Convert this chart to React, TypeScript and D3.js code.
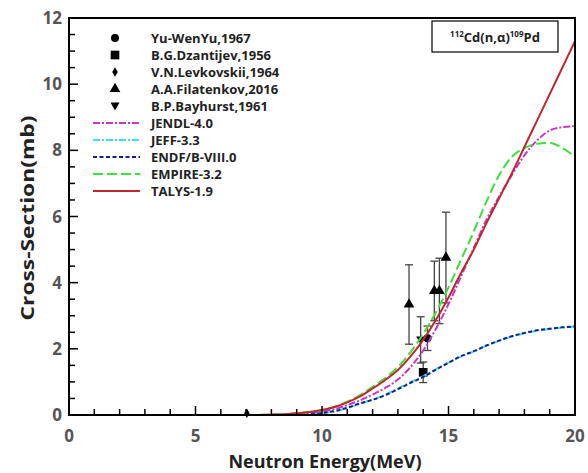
import React from "react";
import * as d3 from "d3";

// evaluated curves, energy grid in MeV
const energies = [7.5, 8, 8.5, 9, 9.5, 10, 10.5, 11, 11.5, 12, 12.5, 13, 13.5, 14, 14.5, 15, 15.5, 16, 16.5, 17, 17.5, 18, 18.5, 19, 19.5, 20];
const talys = [0, 0.01, 0.02, 0.05, 0.09, 0.15, 0.24, 0.38, 0.56, 0.8, 1.06, 1.36, 1.77, 2.27, 2.87, 3.55, 4.3, 5.0, 5.8, 6.55, 7.3, 8.1, 8.9, 9.7, 10.5, 11.3];
const empire = [0, 0.01, 0.02, 0.05, 0.09, 0.15, 0.25, 0.4, 0.6, 0.85, 1.12, 1.45, 1.9, 2.45, 3.1, 3.85, 4.7, 5.55, 6.45, 7.25, 7.8, 8.07, 8.2, 8.22, 8.07, 7.8];
const jendl = [0, 0.005, 0.01, 0.03, 0.06, 0.1, 0.18, 0.3, 0.44, 0.62, 0.82, 1.07, 1.45, 1.95, 2.6, 3.35, 4.2, 5.05, 5.9, 6.6, 7.25, 7.85, 8.3, 8.6, 8.7, 8.73];
const endf = [0, 0, 0, 0, 0.02, 0.06, 0.12, 0.22, 0.35, 0.46, 0.6, 0.78, 0.97, 1.15, 1.37, 1.58, 1.78, 1.93, 2.1, 2.25, 2.38, 2.48, 2.56, 2.61, 2.65, 2.68];
const jeff = [0, 0, 0, 0, 0.02, 0.05, 0.11, 0.21, 0.34, 0.46, 0.61, 0.8, 0.99, 1.17, 1.38, 1.58, 1.77, 1.92, 2.09, 2.24, 2.37, 2.47, 2.55, 2.6, 2.64, 2.67];

// experimental points: [E, sigma, err]
const yuwenyu = [[14.17, 2.32, 0.37]];
const dzantijev = [[14.0, 1.29, 0.31]];
const levkovskii = [[7.03, 0.05, 0]];
const filatenkov = [
  [13.44, 3.34, 1.2],
  [14.44, 3.75, 0.9],
  [14.64, 3.75, 0.99],
  [14.9, 4.76, 1.37],
];
const bayhurst = [[13.9, 2.27, 0.7]];

const xTicks = [0, 5, 10, 15, 20];
const yTicks = [0, 2, 4, 6, 8, 10, 12];

const font = "'Open Sans', 'DejaVu Sans', sans-serif";

const curves = [
  { name: "JENDL-4.0", vals: jendl, color: "#c837c8", dash: "7,2,2,2" },
  { name: "JEFF-3.3", vals: jeff, color: "#3fe0e0", dash: "7,2,2,2" },
  { name: "ENDF/B-VIII.0", vals: endf, color: "#1b1b8f", dash: "4,2.5" },
  { name: "EMPIRE-3.2", vals: empire, color: "#3ee03e", dash: "10,4" },
  { name: "TALYS-1.9", vals: talys, color: "#c0262e", dash: "" },
];

const App = () => {
  const width = 588;
  const height = 473;
  const left = 69, right = 575, top = 18, bottom = 415;
  const x = d3.scaleLinear().domain([0, 20]).range([left, right]);
  const y = d3.scaleLinear().domain([0, 12]).range([bottom, top]);

  const line = d3
    .line<[number, number]>()
    .x((d) => x(d[0]))
    .y((d) => y(d[1]))
    .curve(d3.curveMonotoneX);

  const sym = (type: d3.SymbolType, size: number) => d3.symbol().type(type).size(size)()!;
  const errColor = "#444";

  const errBar = (p: number[], i: number) =>
    p[2] > 0 ? (
      <g key={"e" + i} stroke={errColor} strokeWidth={1.3}>
        <line x1={x(p[0])} x2={x(p[0])} y1={y(p[1] - p[2])} y2={y(p[1] + p[2])} />
        <line x1={x(p[0]) - 4} x2={x(p[0]) + 4} y1={y(p[1] - p[2])} y2={y(p[1] - p[2])} />
        <line x1={x(p[0]) - 4} x2={x(p[0]) + 4} y1={y(p[1] + p[2])} y2={y(p[1] + p[2])} />
      </g>
    ) : null;

  const triDown = "M-4.5,-3.5L4.5,-3.5L0,4.5Z";
  const expSets = [
    { name: "Yu-WenYu,1967", data: yuwenyu, path: sym(d3.symbolCircle, 50) },
    { name: "B.G.Dzantijev,1956", data: dzantijev, path: sym(d3.symbolSquare, 75) },
    { name: "V.N.Levkovskii,1964", data: levkovskii, path: sym(d3.symbolDiamond, 26) },
    { name: "A.A.Filatenkov,2016", data: filatenkov, path: sym(d3.symbolTriangle, 50) },
    { name: "B.P.Bayhurst,1961", data: bayhurst, path: triDown },
  ];

  const minorX = d3.range(0, 21, 1);
  const minorY = d3.range(0, 12.01, 0.5);

  const legX = 115, legTextX = 151, legY0 = 38, legDy = 17;

  return (
    <svg width={width} height={height} style={{ position: "absolute", left: 0, top: 0, background: "#fff" }}>
      <defs>
        <clipPath id="clip">
          <rect x={left} y={top} width={right - left} height={bottom - top} />
        </clipPath>
      </defs>

      {/* experimental data */}
      {expSets.map((s) => (
        <g key={s.name}>
          {s.data.map(errBar)}
          {s.data.map((p, i) => (
            <path key={i} d={s.path} transform={`translate(${x(p[0])},${y(p[1])})`} fill="#000" />
          ))}
        </g>
      ))}

      {/* curves */}
      <g clipPath="url(#clip)">
        {curves.map((c) => (
          <path
            key={c.name}
            d={line(energies.map((e, i) => [e, c.vals[i]] as [number, number])) || ""}
            fill="none"
            stroke={c.color}
            strokeWidth={2}
            strokeDasharray={c.dash}
          />
        ))}
      </g>

      {/* frame */}
      <rect x={left} y={top} width={right - left} height={bottom - top} fill="none" stroke="#000" strokeWidth={2} />

      {/* ticks */}
      <g stroke="#000" strokeWidth={1.5}>
        {minorX.map((v) => (
          <line key={"x" + v} x1={x(v)} x2={x(v)} y1={bottom} y2={bottom - (v % 5 === 0 ? 9 : 6)} />
        ))}
        {minorY.map((v) => (
          <line key={"y" + v} x1={left} x2={left + (v % 2 === 0 ? 9 : 6)} y1={y(v)} y2={y(v)} />
        ))}
      </g>

      {/* tick labels */}
      <g fontFamily={font} fontWeight={700} fontSize={17} fill="#555">
        {xTicks.map((v) => (
          <text key={v} x={x(v)} y={442} textAnchor="middle">
            {v}
          </text>
        ))}
        {yTicks.map((v) => (
          <text key={v} x={62} y={y(v) + 6} textAnchor="end">
            {v}
          </text>
        ))}
      </g>

      {/* axis titles */}
      <text
        x={325}
        y={468}
        textAnchor="middle"
        fontFamily={font}
        fontWeight={700}
        fontSize={18}
        fill="#222"
        textLength={193}
        lengthAdjust="spacingAndGlyphs"
      >
        Neutron Energy(MeV)
      </text>
      <text
        transform={`translate(34,218) rotate(-90)`}
        textAnchor="middle"
        fontFamily={font}
        fontWeight={700}
        fontSize={17}
        fill="#222"
        textLength={205}
        lengthAdjust="spacingAndGlyphs"
      >
        Cross-Section(mb)
      </text>

      {/* legend */}
      <g fontFamily={font} fontWeight={700} fontSize={13} fill="#222">
        {expSets.map((s, i) => (
          <g key={s.name}>
            <path d={s.path} transform={`translate(${legX},${legY0 + i * legDy})`} fill="#000" />
            <text x={legTextX} y={legY0 + i * legDy + 5}>
              {s.name}
            </text>
          </g>
        ))}
        {curves.map((c, i) => {
          const yy = legY0 + (i + 5) * legDy;
          return (
            <g key={c.name}>
              <line x1={93} x2={140} y1={yy} y2={yy} stroke={c.color} strokeWidth={2} strokeDasharray={c.dash} />
              <text x={legTextX} y={yy + 5}>
                {c.name}
              </text>
            </g>
          );
        })}
      </g>

      {/* reaction label */}
      <rect x={432} y={21} width={126} height={31} fill="#fff" stroke="#000" strokeWidth={1.2} />
      <text x={495} y={42} textAnchor="middle" fontFamily={font} fontWeight={700} fontSize={13} fill="#222">
        <tspan fontSize={8} dy={-5}>112</tspan>
        <tspan dy={5}>Cd(n,α)</tspan>
        <tspan fontSize={8} dy={-5}>109</tspan>
        <tspan dy={5}>Pd</tspan>
      </text>
    </svg>
  );
};

export default App;
